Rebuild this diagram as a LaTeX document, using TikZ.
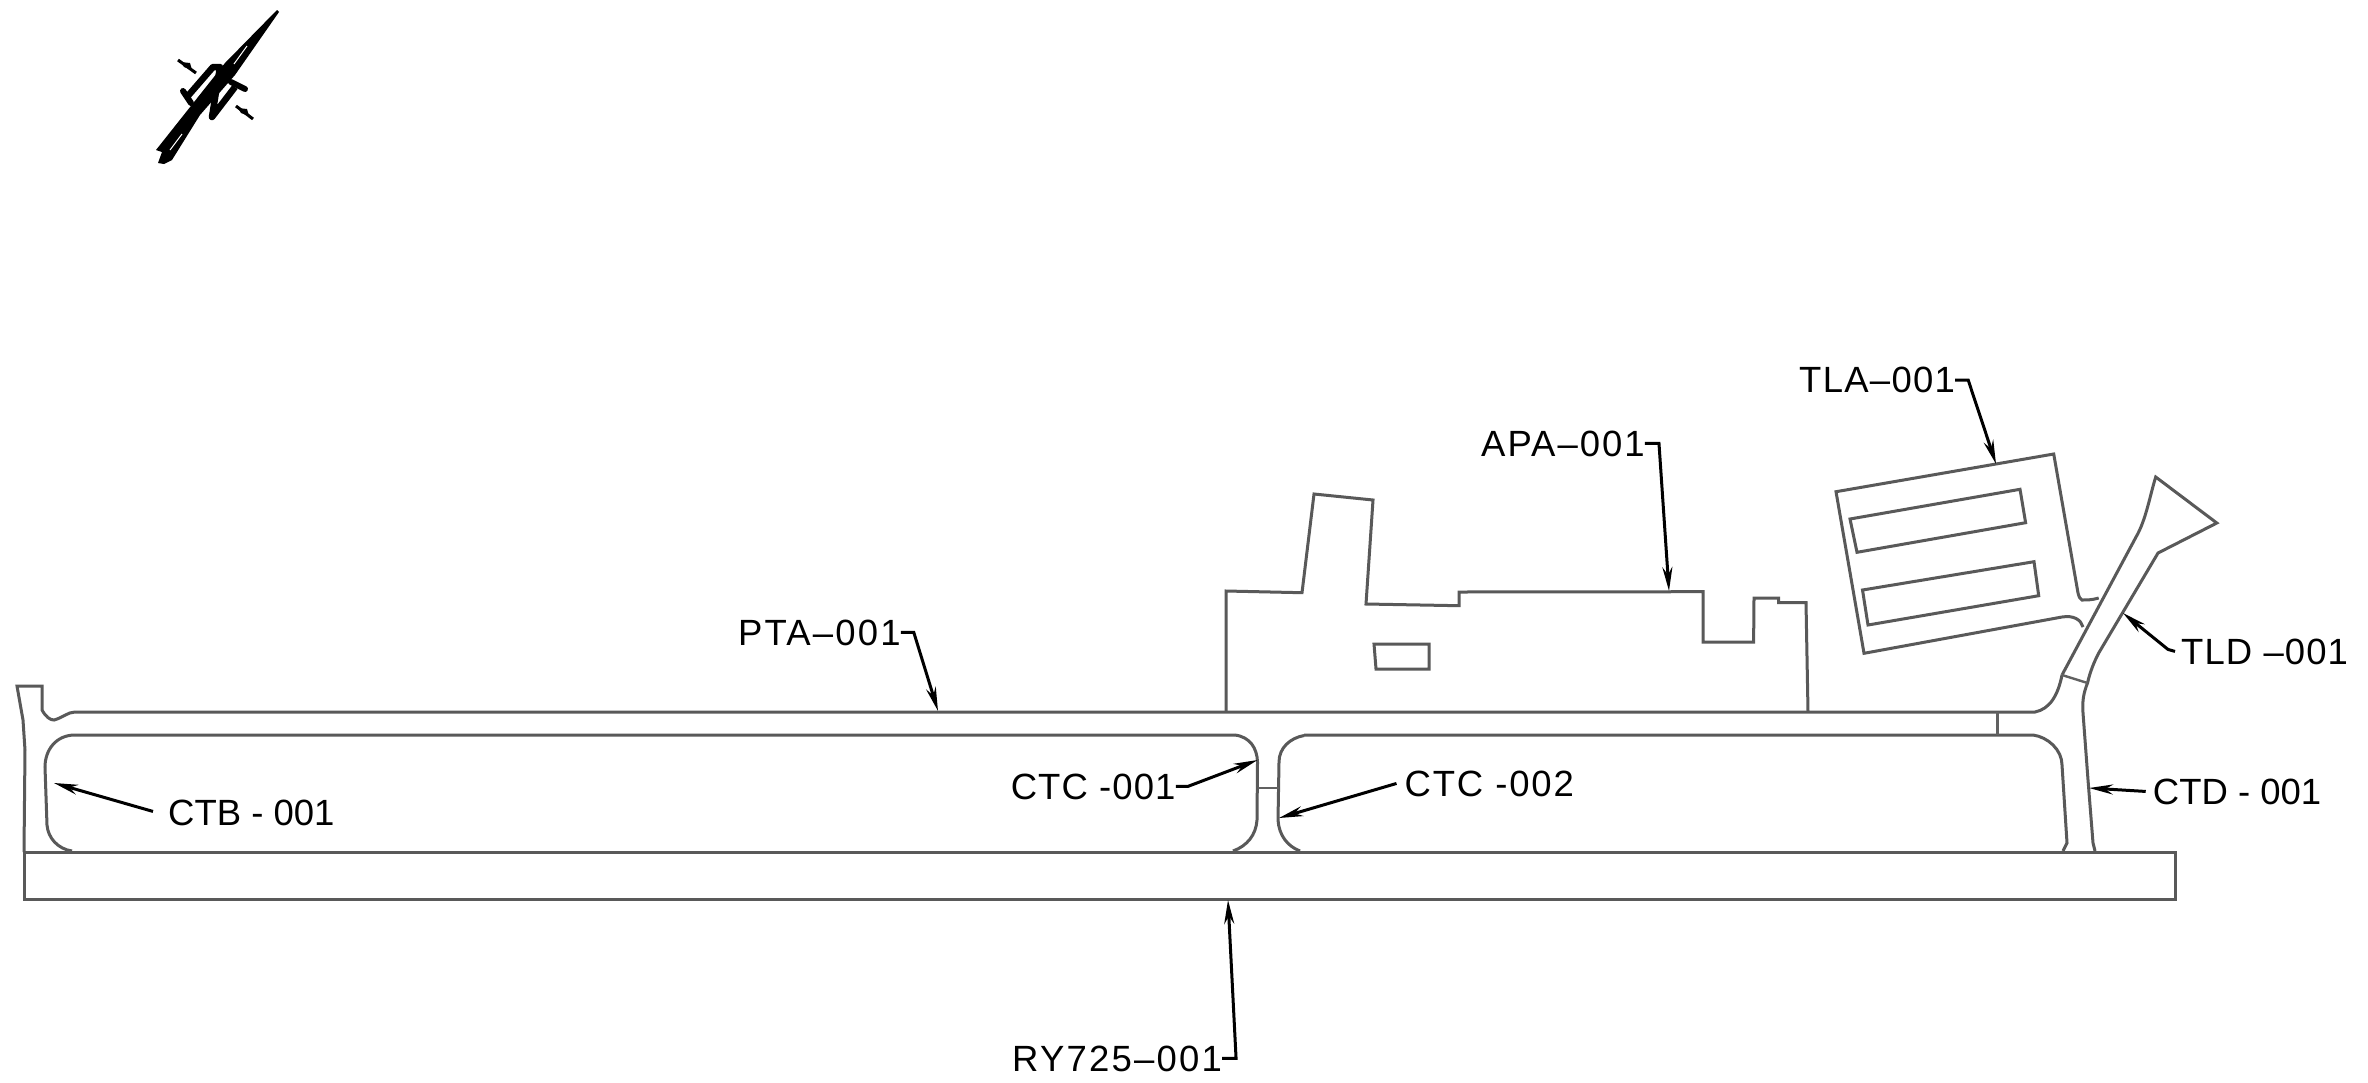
\documentclass[tikz,border=0pt]{standalone}
\usepackage{fontspec}
\setmainfont{Liberation Sans}
\usetikzlibrary{arrows.meta}
\newcommand\lsp[2]{{\addfontfeature{LetterSpace=#1}#2}}
\tikzset{
  outline/.style={draw=black!65,line width=3pt,line join=miter},
  thinline/.style={draw=black!62,line width=2.4pt},
  lbl/.style={anchor=base west,inner sep=0pt,font=\fontsize{36.5}{36.5}\selectfont,text=black},
  leader/.style={draw=black,line width=3pt,-{Stealth[length=24pt,width=10pt]}}
}
\begin{document}
\begin{tikzpicture}[x=1pt,y=-1pt]
\useasboundingbox (0,0) rectangle (2368,1082);
\fill[white] (0,0) rectangle (2368,1082);
% runway
\draw[outline] (24,852) rectangle (2175,899.5);
% parallel taxiway and left stub
\draw[outline] (24,852) -- (25,750) -- (23,720) -- (17,686) -- (42,686) -- (42,710)
  .. controls (46,717) and (50,720) .. (54,720) .. controls (62,718) and (68,712) .. (75,712)
  -- (2035,712) .. controls (2050,709) and (2058,695) .. (2062,675);
% centre blocks
\draw[outline] (1235,735) .. controls (1250,737) and (1257,748) .. (1257.5,762)
  -- (1257,820) .. controls (1256,835) and (1247,846) .. (1233,851);
\draw[outline] (1304,735.5) .. controls (1290,738) and (1279,748) .. (1279,762)
  -- (1278,820) .. controls (1279,835) and (1287,846) .. (1300,851);
\draw[thinline] (1257.5,788) -- (1279,788);
\draw[outline] (1235,735) -- (75,735) .. controls (56,735) and (45,750) .. (45,767)
  -- (47,825) .. controls (48,838) and (58,849) .. (72,851);
\draw[outline] (1304,735) -- (2033,735) .. controls (2048,737) and (2062,750) .. (2062,765)
  -- (2067,843) -- (2063,851);
\draw[thinline] (1997.5,712) -- (1997.5,735);
% CTD / TLD
\draw[outline] (2095,851) -- (2093,843) -- (2088,780) -- (2083,713) .. controls (2082,700) and (2084,692) .. (2087.5,683)
  .. controls (2090,672) and (2094,662) .. (2098.7,653) -- (2158,553) -- (2216.8,523) -- (2155.7,477)
  .. controls (2150,495) and (2146,520) .. (2136,537) -- (2062,675);
\draw[thinline] (2062,675) -- (2087.5,683);
% apron
\draw[outline] (1226,712) -- (1226,591) -- (1302,592.7) -- (1314,494) -- (1373,500) -- (1366,604)
  -- (1459,605.7) -- (1459,592) -- (1703,591.7) -- (1703,642) -- (1753.6,642) -- (1754,598)
  -- (1778.5,598) -- (1778.5,602.7) -- (1806,602.7) -- (1808,712);
\draw[outline] (1374,644) -- (1429,644) -- (1429,669) -- (1376,669) -- cycle;
% TLA
\draw[outline] (2098.7,598) .. controls (2092,600) and (2087,600) .. (2082,600)
  .. controls (2080,599) and (2079,597) .. (2078,593) -- (2053.7,454) -- (1836,491.7) -- (1864,653.3)
  -- (2062,617) .. controls (2074,615) and (2081,620) .. (2083,627);
\draw[outline] (1850,519) -- (2020,489.3) -- (2025.6,522.7) -- (1857,552.3) -- cycle;
\draw[outline] (1862.5,590) -- (2034,561.7) -- (2038.7,595.7) -- (1868,625) -- cycle;
% north arrow
\fill[black] (277,10) -- (279,12) -- (235,75) -- (200,115) -- (172,160) -- (164,164) -- (158,163)
  -- (162,152) -- (156,150) -- (225,63) -- cycle;
\draw[white,line width=1pt] (247,46) -- (234,64) (182,134) -- (170,150);
\draw[black,line width=6.5pt,line join=round] (187,97) -- (213,67) -- (220,67) -- (212,117) -- (235,87);
\draw[black,line width=6pt,line cap=round] (183,91) -- (191,103) (231,82) -- (245,89);
\draw[black,line width=3pt] (178,60) -- (196,73) (236,106) -- (253,119);
\fill[black] (181,62) -- (190,63) -- (192,70) -- (184,67) -- cycle (238,108) -- (247,109) -- (249,116) -- (241,113) -- cycle;
% labels
\node[lbl] (lPTA) at (738,645) {\lsp{5.9}{PTA–001}};
\node[lbl] (lAPA) at (1481,456) {\lsp{5.5}{APA–001}};
\node[lbl] (lTLA) at (1799,392.7) {\lsp{3.5}{TLA–001}};
\node[lbl] (lTLD) at (2181,664) {\lsp{3}{TLD –001}};
\node[lbl] (lCTD) at (2152.7,804) {CTD - 001};
\node[lbl] (lCTB) at (168,825) {CTB - 001};
\node[lbl] (lCTA) at (1010.6,799) {\lsp{3}{CTC -001}};
\node[lbl] (lCTE) at (1404.5,796) {\lsp{5}{CTC -002}};
\node[lbl] (lRY) at (1012,1071) {\lsp{6}{RY725–001}};
% arrow targets
\coordinate (tPTA) at (938,711);
\coordinate (tAPA) at (1669,591);
\coordinate (tTLA) at (1996,464);
\coordinate (tTLD) at (2123,613);
\coordinate (tCTD) at (2089,788);
\coordinate (tCTB) at (54,783);
\coordinate (tCTA) at (1257.5,760);
\coordinate (tCTE) at (1279,818);
\coordinate (tRY) at (1228,900);
% leaders
\draw[leader] (lPTA.east) -- ++(13,0) -- (tPTA);
\draw[leader] (lAPA.east) -- ++(14,0) -- (tAPA);
\draw[leader] (lTLA.east) -- ++(13,0) -- (tTLA);
\draw[leader] ([xshift=-6pt]lTLD.west) -- ++(-7,-2) -- (tTLD);
\draw[leader] ([xshift=-7pt]lCTD.west) -- (tCTD);
\draw[leader] ([xshift=-15pt,yshift=1pt]lCTB.west) -- (tCTB);
\draw[leader] (lCTA.east) -- ++(12,0) -- (tCTA);
\draw[leader] ([xshift=-8pt]lCTE.west) -- (tCTE);
\draw[leader] (lRY.east) -- ++(14,0) -- (tRY);
\end{tikzpicture}
\end{document}
